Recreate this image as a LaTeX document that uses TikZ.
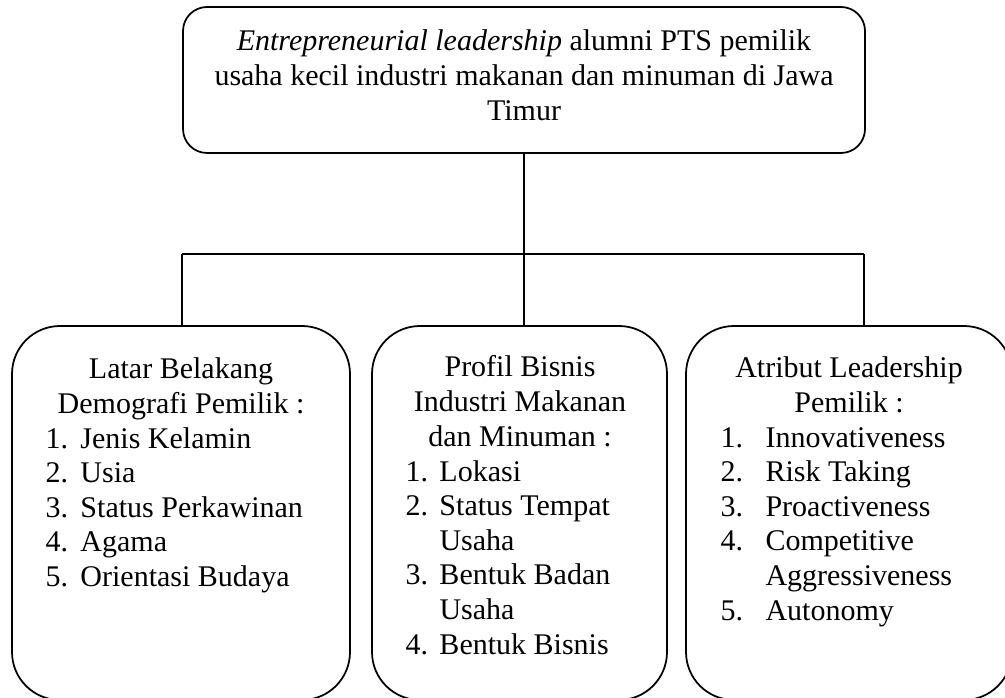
\documentclass[tikz,border=0pt]{standalone}
\usepackage{fontspec}
\setmainfont{Liberation Serif}
\begin{document}
\begin{tikzpicture}[x=0.4pt,y=-0.4pt,
  box/.style={draw, line width=0.7pt, inner sep=0pt},
  topbox/.style={box, rounded corners=9.6pt, minimum width=682*0.4pt, minimum height=146*0.4pt},
  subbox/.style={box, rounded corners=19.2pt, minimum height=374*0.4pt},
  txt/.style={inner sep=0pt, anchor=base, font=\fontsize{12}{13.85}\selectfont},
  lst/.style={txt, anchor=base west},
  link/.style={line width=0.7pt}]
\path[use as bounding box, clip] (0,0) rectangle (1005,698);

% boxes
\node[topbox] (top) at (524,80) {};
\node[subbox, minimum width=338*0.4pt] (left)  at (181,513) {};
\node[subbox, minimum width=295*0.4pt] (mid)   at (519.5,513) {};
\node[subbox, minimum width=326*0.4pt] (right) at (849,513) {};

% connectors
\coordinate (hub) at (524,254);
\coordinate (jl)  at (182,254);
\coordinate (jr)  at (864,254);
\draw[link] (top.south) -- (hub);
\draw[link] (jl) -- (jr);
\draw[link] (jl) -- (jl |- left.north);
\draw[link] (hub) -- (hub |- mid.north);
\draw[link] (jr) -- (jr |- right.north);

% top text
\node[txt] (toptext) at (524,51) {\begin{tabular}[t]{@{}c@{}}
\textit{Entrepreneurial leadership} alumni PTS pemilik\\
usaha kecil industri makanan dan minuman di Jawa\\
Timur\end{tabular}};

% left box
\node[txt] (lefttitle) at (181,379) {\begin{tabular}[t]{@{}c@{}}
Latar Belakang\\ Demografi Pemilik :\end{tabular}};
\node[lst] (leftlist) at (45,448) {\begin{tabular}[t]{@{}p{14pt}@{}l@{}}
1. & Jenis Kelamin\\
2. & Usia\\
3. & Status Perkawinan\\
4. & Agama\\
5. & Orientasi Budaya\end{tabular}};

% middle box
\node[txt] (midtitle) at (520,377) {\begin{tabular}[t]{@{}c@{}}
Profil Bisnis\\ Industri Makanan\\ dan Minuman :\end{tabular}};
\node[lst] (midlist) at (405,481) {\begin{tabular}[t]{@{}p{13.6pt}@{}l@{}}
1. & Lokasi\\
2. & Status Tempat\\
   & Usaha\\
3. & Bentuk Badan\\
   & Usaha\\
4. & Bentuk Bisnis\end{tabular}};

% right box
\node[txt] (righttitle) at (849,378) {\begin{tabular}[t]{@{}c@{}}
Atribut Leadership\\ Pemilik :\end{tabular}};
\node[lst] (rightlist) at (720,447) {\begin{tabular}[t]{@{}p{18pt}@{}l@{}}
1. & Innovativeness\\
2. & Risk Taking\\
3. & Proactiveness\\
4. & Competitive\\
   & Aggressiveness\\
5. & Autonomy\end{tabular}};
\end{tikzpicture}
\end{document}
